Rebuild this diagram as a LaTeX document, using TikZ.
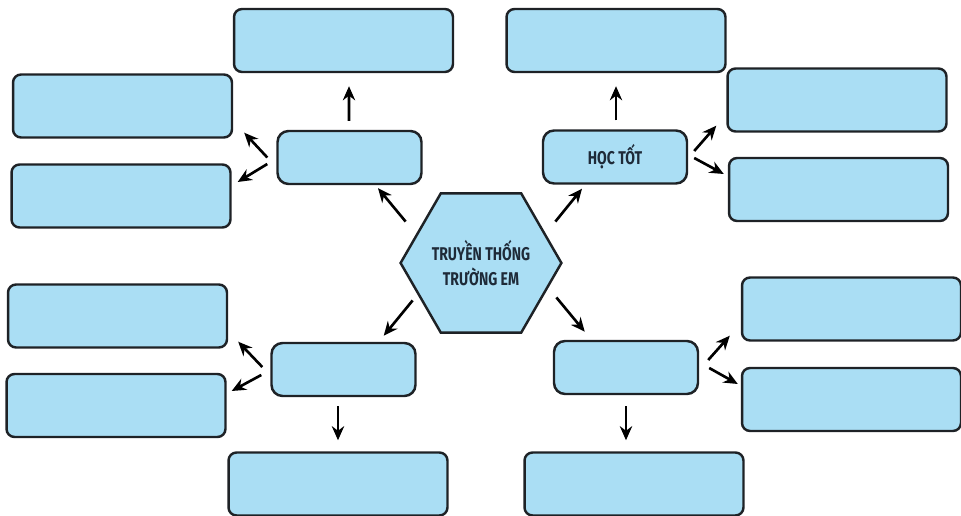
\documentclass[tikz,border=0pt]{standalone}
\usepackage{fontspec}
\newfontfamily\labelfont[FakeStretch=0.76]{Fira Sans}
\usetikzlibrary{arrows.meta,shapes.geometric,calc}
\definecolor{boxblue}{RGB}{170,222,244}
\definecolor{boxline}{RGB}{30,34,38}
\definecolor{labeltext}{RGB}{30,42,56}

\begin{document}
\begin{tikzpicture}[
x=0.02cm, y=-0.02cm,
>={Stealth[length=8pt,width=7pt]}, line width=1.5pt,
hub-node/.style = {regular polygon, regular polygon sides=6, draw=boxline, line width=1.4pt, fill=boxblue, minimum size=2.86cm, inner sep=0pt, align=center, text=labeltext, font=\labelfont\bfseries\fontsize{10.5}{14.7}\selectfont},
topic-node/.style = {rectangle, rounded corners=0.22cm, draw=boxline, line width=1.4pt, fill=boxblue, minimum width=2.88cm, minimum height=1.06cm, text=labeltext, font=\labelfont\bfseries\fontsize{10.5}{13}\selectfont},
idea-node/.style = {rectangle, rounded corners=0.16cm, draw=boxline, line width=1.4pt, fill=boxblue, minimum width=4.38cm, minimum height=1.26cm}
]
\useasboundingbox (0,0) rectangle (961,516);

\node [hub-node] (hub) at (481,263) {TRUYỀN THỐNG\\TRƯỜNG EM};

% upper left
\node [topic-node] (ul) at (349.5,157.5) {};
\node [idea-node] (ult) at (343.5,40.5) {};
\node [idea-node] (ul1) at (122.5,106) {};
\node [idea-node] (ul2) at (121,196) {};

% upper right
\node [topic-node] (ur) at (615,157) {HỌC TỐT};
\node [idea-node] (urt) at (616,40.5) {};
\node [idea-node] (ur1) at (837,100) {};
\node [idea-node] (ur2) at (838.5,189.5) {};

% lower left
\node [topic-node] (ll) at (343.5,369.5) {};
\node [idea-node] (ll1) at (117.5,316) {};
\node [idea-node] (ll2) at (116,405.5) {};
\node [idea-node] (llb) at (338,484) {};

% lower right
\node [topic-node] (lr) at (626,367.5) {};
\node [idea-node] (lr1) at (851.5,309) {};
\node [idea-node] (lr2) at (851.5,399.5) {};
\node [idea-node] (lrb) at (634,484) {};

% arrows
\draw[->] ([shift={(-14,-6)}]hub.150) -- ([shift={(28.5,3)}]ul.south);
\draw[->] ([shift={(-0.5,-9)}]ul.north) -- ([shift={(5.5,13)}]ult.south);
\draw[->] ([shift={(-9,0)}]ul.west) -- ([shift={(11,-6)}]ul1.south east);
\draw[->] ([shift={(-9,6.5)}]ul.west) -- ([shift={(6,-14)}]ul2.east);

\draw[->] ([shift={(13,-6)}]hub.30) -- ([shift={(-33,4)}]ur.south);
\draw[->] ([shift={(1,-9)}]ur.north) -- ([shift={(0,13)}]urt.south);
\draw[->] ([shift={(6,-6)}]ur.east) -- ([shift={(-10,-7)}]ur1.south west);
\draw[->] ([shift={(6,1)}]ur.east) -- ([shift={(-4,-15.5)}]ur2.west);

\draw[->] ([shift={(-7,2)}]hub.210) -- ([shift={(-33,-6)}]ll.north east);
\draw[->] ([shift={(-8,-2.5)}]ll.west) -- ([shift={(10,-7)}]ll1.south east);
\draw[->] ([shift={(-9,5.5)}]ll.west) -- ([shift={(5,-14.5)}]ll2.east);
\draw[->] ([shift={(-5.5,9)}]ll.south) -- ([shift={(0,-11)}]llb.north);

\draw[->] ([shift={(14,-1)}]hub.330) -- ([shift={(32,-8)}]lr.north west);
\draw[->] ([shift={(9,-7.5)}]lr.east) -- ([shift={(-11,-6)}]lr1.south west);
\draw[->] ([shift={(10,0.5)}]lr.east) -- ([shift={(-3,-15.5)}]lr2.west);
\draw[->] ([shift={(0,11)}]lr.south) -- ([shift={(-8,-11)}]lrb.north);

\end{tikzpicture}
\end{document}
